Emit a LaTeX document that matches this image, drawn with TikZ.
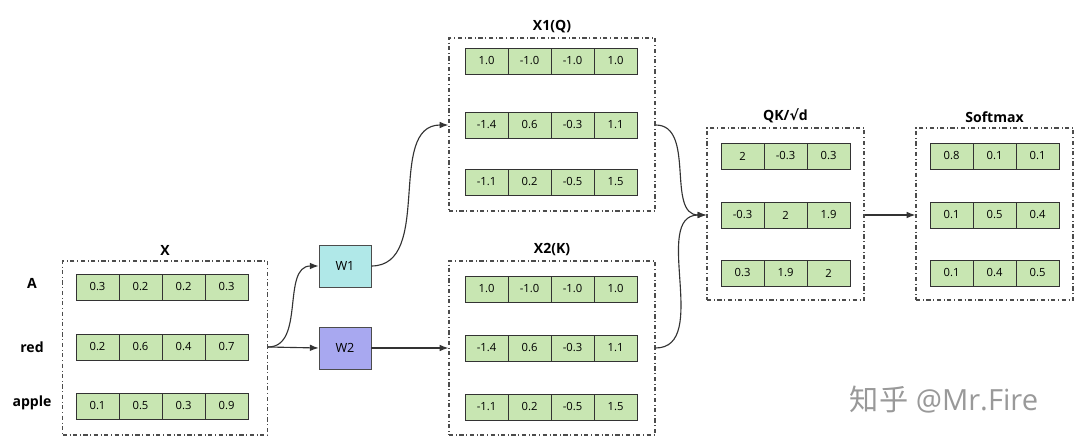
\documentclass[tikz,border=0pt]{standalone}
\usepackage{fontspec}
\setmainfont{Open Sans}
\newfontfamily\cjk{Noto Sans CJK SC}
\newfontfamily\dv{DejaVu Sans}
\usetikzlibrary{arrows.meta, positioning}
\definecolor{cellgreen}{RGB}{200,230,178}
\definecolor{wcyan}{RGB}{176,232,232}
\definecolor{wblue}{RGB}{168,168,240}
\tikzstyle{cell}  =[rectangle, draw=black!80, fill=cellgreen, minimum width=1.075cm, minimum height=0.65cm, inner sep=0pt, font=\footnotesize]
\tikzstyle{group} =[rectangle, draw=black!70, dash dot, thick, inner sep=0pt]
\tikzstyle{title} =[font=\bfseries\normalsize]
\tikzstyle{weight}=[rectangle, draw=black!70, minimum width=1.3cm, minimum height=1.05cm, font=\small]
\tikzstyle{post}  =[-{Latex[length=2.2mm]}, draw=black!80, thick]
% one row of cells: name, x of first cell, y, values
\newcommand{\cellrow}[4]{
	\foreach \v [count=\i] in {#4}
		\node (#1-\i) [cell] at ({#2+(\i-1)*1.075+0.5375}, #3) {\v};
}
\begin{document}
\begin{tikzpicture}
	\useasboundingbox (0,0) rectangle (27,-11.125);

	% input X
	\node (X)   [group, minimum width=5.125cm, minimum height=4.35cm] at (4.125,-8.7) {};
	\node (Xt)  [title, above=0cm of X] {X};
	\cellrow{xa}{1.9}{-7.175}{0.3,0.2,0.2,0.3}
	\cellrow{xb}{1.9}{-8.675}{0.2,0.6,0.4,0.7}
	\cellrow{xc}{1.9}{-10.15}{0.1,0.5,0.3,0.9}
	\node (la) [title] at (0.8,-7.075) {A};
	\node (lb) [title] at (0.8,-8.675) {red};
	\node (lc) [title] at (0.8,-10.075) {apple};

	% weights
	\node (W1)  [weight, fill=wcyan] at (8.625,-6.65) {W1};
	\node (W2)  [weight, fill=wblue] at (8.625,-8.7) {W2};

	% X1(Q)
	\node (Q)   [group, minimum width=5.15cm, minimum height=4.325cm] at (13.8,-3.1125) {};
	\node (Qt)  [title, above=0cm of Q] {X1(Q)};
	\cellrow{qa}{11.625}{-1.525}{1.0,-1.0,-1.0,1.0}
	\cellrow{qb}{11.625}{-3.125}{-1.4,0.6,-0.3,1.1}
	\cellrow{qc}{11.625}{-4.55}{-1.1,0.2,-0.5,1.5}

	% X2(K)
	\node (K)   [group, minimum width=5.15cm, minimum height=4.35cm] at (13.8,-8.7) {};
	\node (Kt)  [title, above=0cm of K] {X2(K)};
	\cellrow{ka}{11.625}{-7.225}{1.0,-1.0,-1.0,1.0}
	\cellrow{kb}{11.625}{-8.7}{-1.4,0.6,-0.3,1.1}
	\cellrow{kc}{11.625}{-10.175}{-1.1,0.2,-0.5,1.5}

	% QK/sqrt d
	\node (S)   [group, minimum width=3.925cm, minimum height=4.3cm] at (19.6375,-5.35) {};
	\node (St)  [title, above=0cm of S] {QK/{\dv\bfseries √}d};
	\cellrow{sa}{18.025}{-3.9}{2,-0.3,0.3}
	\cellrow{sb}{18.025}{-5.375}{-0.3,2,1.9}
	\cellrow{sc}{18.025}{-6.825}{0.3,1.9,2}

	% softmax
	\node (P)   [group, minimum width=3.925cm, minimum height=4.3cm] at (24.8625,-5.35) {};
	\node (Pt)  [title, above=0cm of P] {Softmax};
	\cellrow{pa}{23.25}{-3.9}{0.8,0.1,0.1}
	\cellrow{pb}{23.25}{-5.375}{0.1,0.5,0.4}
	\cellrow{pc}{23.25}{-6.825}{0.1,0.4,0.5}

	% connectors
	\draw[post] (X.east |- xb-4) to[out=0, in=180] (W1.west);
	\draw[post] (X.east |- xb-4) -- (W2.west);
	\draw[post] (W1.east) to[out=0, in=180] (Q.west |- qb-1);
	\draw[post] (W2.east) -- (K.west |- kb-1);
	\draw[post] (Q.east |- qb-4) to[out=0, in=180] (S.west |- sb-1);
	\draw[post] (K.east |- kb-4) to[out=0, in=180] (S.west |- sb-1);
	\draw[post] (S.east |- sb-3) -- (P.west |- pb-1);

	\node (wm) [text=black!40, font=\huge] at (23.6,-10) {{\cjk 知乎} @Mr.Fire};
\end{tikzpicture}
\end{document}
